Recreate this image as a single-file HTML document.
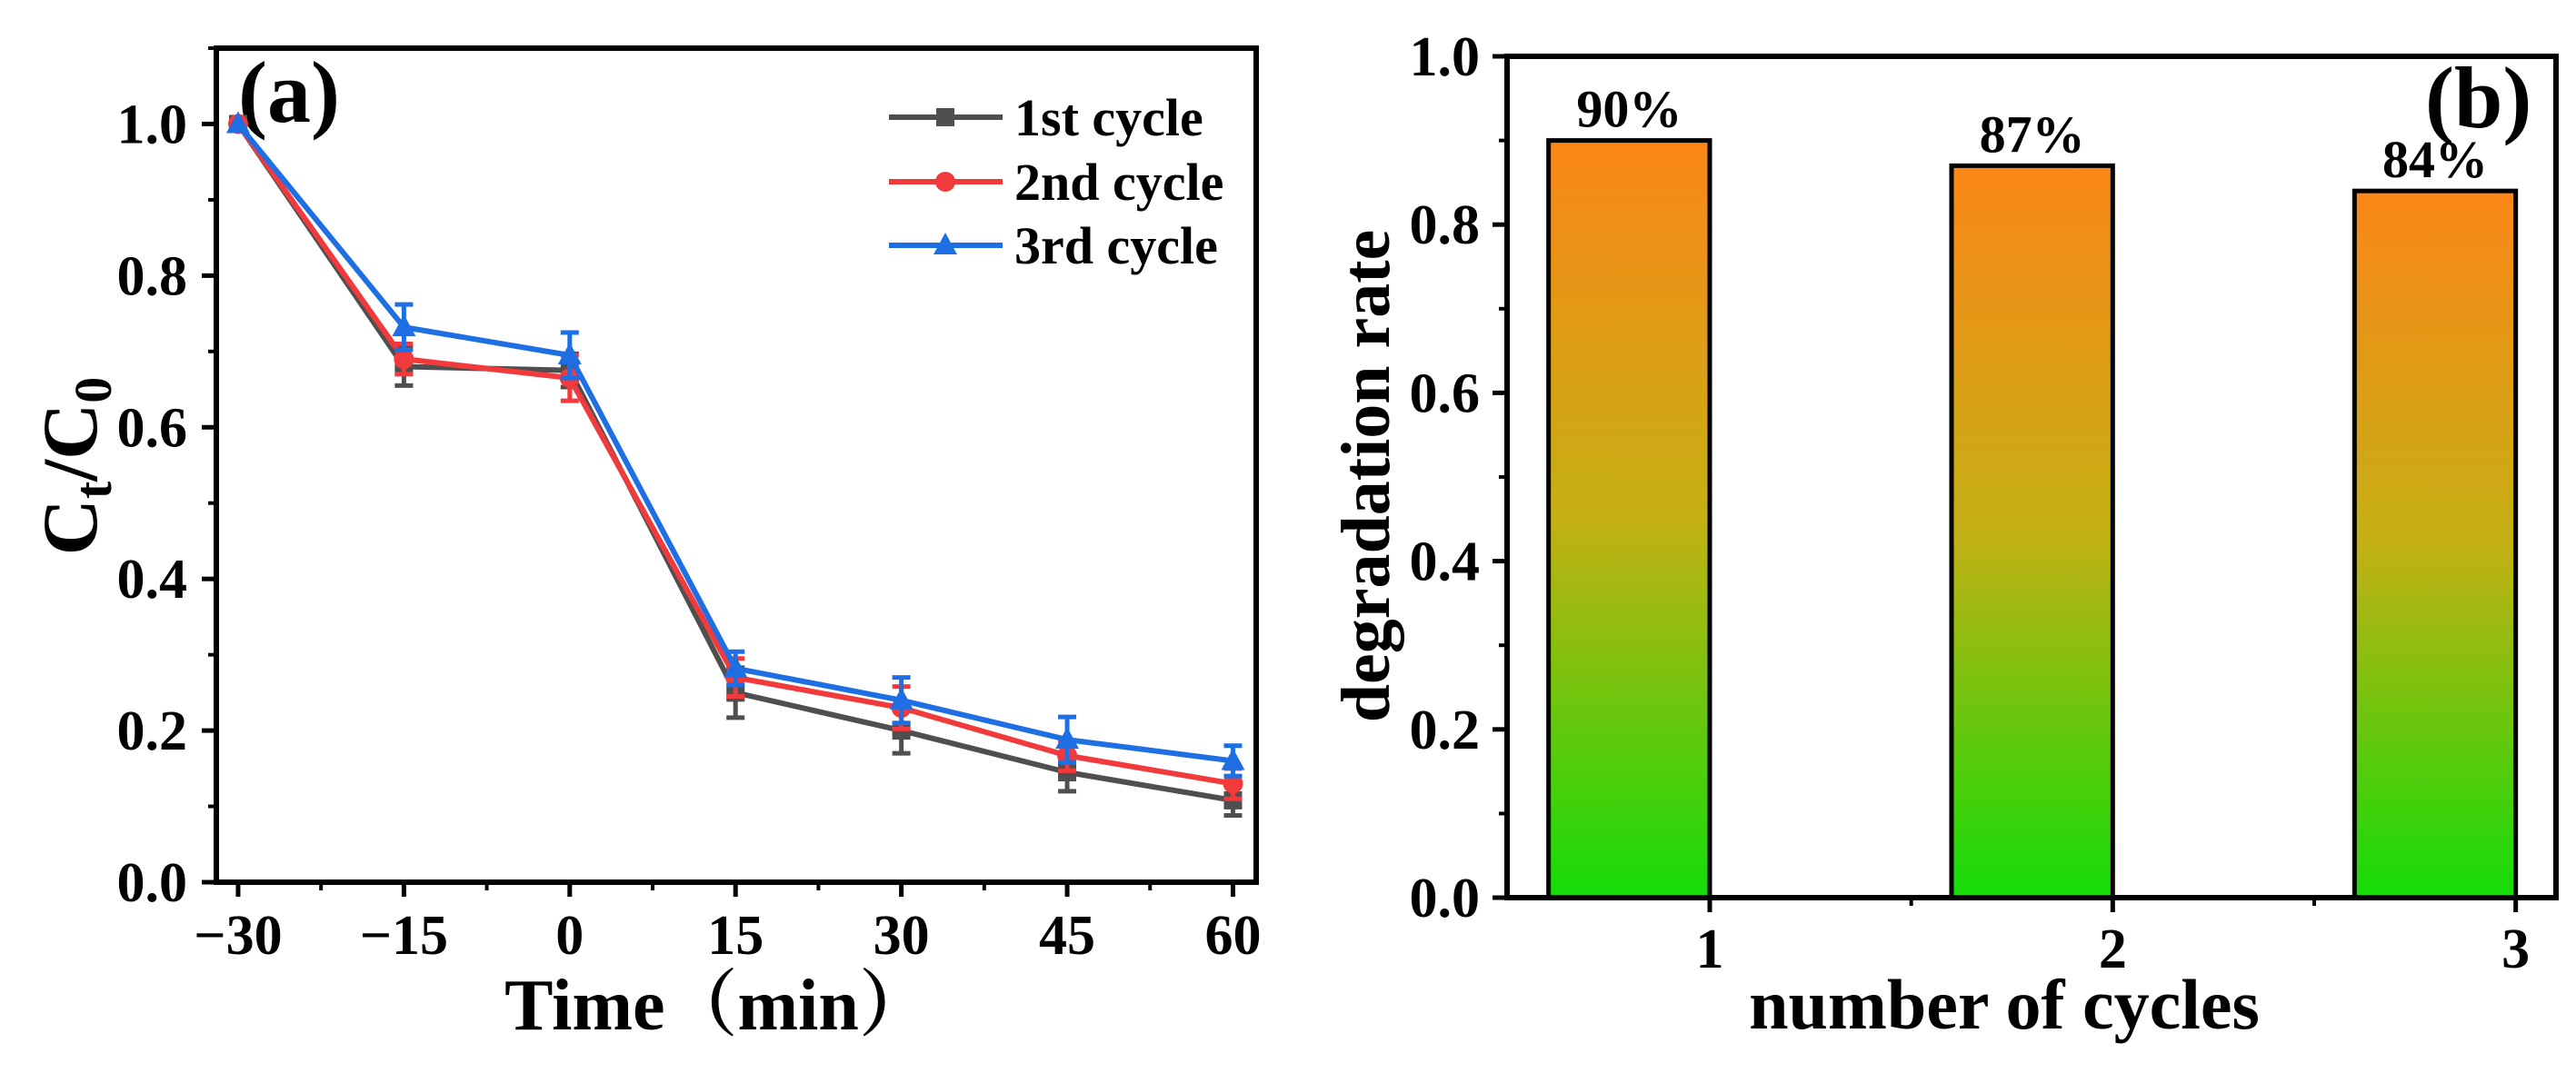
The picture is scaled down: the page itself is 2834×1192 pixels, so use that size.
<!DOCTYPE html>
<html><head><meta charset="utf-8"><style>
html,body{margin:0;padding:0;background:#fff}
svg{display:block}
text{font-family:"Liberation Serif","Noto Serif CJK SC",serif;font-weight:bold;fill:#000}
</style></head><body>
<svg id="fig" width="2834" height="1192" viewBox="0 0 2834 1192" xmlns="http://www.w3.org/2000/svg">
<defs>
<linearGradient id="barGrad" x1="0" y1="0" x2="0" y2="1">
<stop offset="0" stop-color="#fb8618"/>
<stop offset="0.5" stop-color="#c4b014"/>
<stop offset="1" stop-color="#14dc08"/>
</linearGradient>
</defs>
<g id="pa"></g>
<g id="pb"></g>
</svg>
<script>
// Panel (a) data
const times = [-30, -15, 0, 15, 30, 45, 60];
const cycle1 = [1.0, 0.68, 0.675, 0.25, 0.2, 0.145, 0.108];
const cycle2 = [1.0, 0.69, 0.665, 0.27, 0.23, 0.167, 0.13];
const cycle3 = [1.0, 0.732, 0.695, 0.282, 0.24, 0.188, 0.16];
const err1 = [0, 0.025, 0.022, 0.033, 0.03, 0.025, 0.02];
const err2 = [0, 0.02, 0.03, 0.025, 0.028, 0.02, 0.02];
const err3 = [0, 0.03, 0.03, 0.022, 0.03, 0.03, 0.02];
const xTicksA = [-30, -15, 0, 15, 30, 45, 60];
const xTickLabelsA = ["\u221230", "\u221215", "0", "15", "30", "45", "60"];
const yTicksA = [0, 0.2, 0.4, 0.6, 0.8, 1.0];
const yTickLabelsA = ["0.0", "0.2", "0.4", "0.6", "0.8", "1.0"];
const seriesNames = ["1st cycle", "2nd cycle", "3rd cycle"];
// Panel (b) data
const cycles = [1, 2, 3];
const rates = [0.90, 0.87, 0.84];
const rateLabels = ["90%", "87%", "84%"];
const yTicksB = [0, 0.2, 0.4, 0.6, 0.8, 1.0];
const yTickLabelsB = ["0.0", "0.2", "0.4", "0.6", "0.8", "1.0"];

const NS = "http://www.w3.org/2000/svg";
function mk(parent, tag, attrs, txt) {
  const e = document.createElementNS(NS, tag);
  for (const k in attrs) e.setAttribute(k, attrs[k]);
  if (txt !== undefined) e.textContent = txt;
  parent.appendChild(e);
  return e;
}

// ---------- Panel A ----------
const pa = document.getElementById('pa');
const A = {l: 238, r: 1382, t: 53, b: 971, x0: -31.97, x1: 62.1, y0: 0, y1: 1.1};
const xa = v => A.l + (v - A.x0) / (A.x1 - A.x0) * (A.r - A.l);
const ya = v => A.b - (v - A.y0) / (A.y1 - A.y0) * (A.b - A.t);

let frameA = mk(pa, 'rect', {x: A.l, y: A.t, width: A.r - A.l, height: A.b - A.t, fill: 'none', stroke: '#000', 'stroke-width': 6});



xTicksA.forEach((t, i) => {
  const tk = mk(pa, 'line', {x1: xa(t), x2: xa(t), y1: A.b, y2: A.b + 16, stroke: '#000', 'stroke-width': 5});
  
  
  const lb = mk(pa, 'text', {x: xa(t), y: 1050, 'font-size': 62, 'text-anchor': 'middle'}, xTickLabelsA[i]);
  
  
  if (i < xTicksA.length - 1) {
    const mt = mk(pa, 'line', {x1: xa(t + 7.5), x2: xa(t + 7.5), y1: A.b, y2: A.b + 9, stroke: '#000', 'stroke-width': 4});
    
    
  }
});
yTicksA.forEach((t, i) => {
  const tk = mk(pa, 'line', {x1: A.l - 16, x2: A.l, y1: ya(t), y2: ya(t), stroke: '#000', 'stroke-width': 5});
  
  
  const lb = mk(pa, 'text', {x: 206, y: ya(t) + 21, 'font-size': 62, 'text-anchor': 'end'}, yTickLabelsA[i]);
  
  
  const mt = mk(pa, 'line', {x1: A.l - 9, x2: A.l, y1: ya(t + 0.1), y2: ya(t + 0.1), stroke: '#000', 'stroke-width': 4});
  
  
});

const xl = mk(pa, 'text', {x: 790, y: 1133, 'font-size': 80, 'text-anchor': 'middle'}, "Time\uFF08min\uFF09");


const yl = mk(pa, 'text', {x: 0, y: 0, 'font-size': 86, 'text-anchor': 'middle', transform: 'translate(106,513) rotate(-90)'});


mk(yl, 'tspan', {}, 'C');
mk(yl, 'tspan', {'font-size': 58, dy: 16}, 't');
mk(yl, 'tspan', {dy: -16}, '/C');
mk(yl, 'tspan', {'font-size': 58, dy: 16}, '0');
const la = mk(pa, 'text', {x: 262, y: 134, 'font-size': 96}, '(a)');



const colors = ['#4f4f4f', '#f23a3d', '#1e6fe3'];
const allY = [cycle1, cycle2, cycle3];
const allE = [err1, err2, err3];
function marker(g, k, cx, cy, s) {
  let m;
  if (k === 0) m = mk(g, 'rect', {x: cx - s, y: cy - s, width: 2 * s, height: 2 * s, fill: colors[0]});
  else if (k === 1) m = mk(g, 'circle', {cx: cx, cy: cy, r: s + 1, fill: colors[1]});
  else m = mk(g, 'polygon', {points: `${cx},${cy - s - 4} ${cx - s - 3},${cy + s} ${cx + s + 3},${cy + s}`, fill: colors[2]});
  return m;
}
allY.forEach((ys, k) => {
  const g = mk(pa, 'g', {});
  
  
  const pts = times.map((t, i) => xa(t) + ',' + ya(ys[i])).join(' ');
  const ln = mk(g, 'polyline', {points: pts, fill: 'none', stroke: colors[k], 'stroke-width': 6, 'stroke-linejoin': 'round'});
  
  
  times.forEach((t, i) => {
    const e = allE[k][i];
    if (e > 0) {
      const eb = mk(g, 'path', {d: `M${xa(t)},${ya(ys[i] - e)}V${ya(ys[i] + e)}M${xa(t) - 10},${ya(ys[i] - e)}h20M${xa(t) - 10},${ya(ys[i] + e)}h20`, stroke: colors[k], 'stroke-width': 5, fill: 'none'});
      
      
    }
    const m = marker(g, k, xa(t), ya(ys[i]), 10);
    
    
  });
});
// legend
const legRows = [129, 200, 270];
seriesNames.forEach((n, k) => {
  const g = mk(pa, 'g', {});
  
  
  mk(g, 'line', {x1: 978, x2: 1103, y1: legRows[k], y2: legRows[k], stroke: colors[k], 'stroke-width': 6});
  marker(g, k, 1040, legRows[k], 10);
  mk(g, 'text', {x: 1116, y: legRows[k] + 20, 'font-size': 58}, n);
});

// ---------- Panel B ----------
const pb = document.getElementById('pb');
const B = {l: 1658, r: 2812, t: 62, b: 988, x0: 0.497, x1: 3.1, y0: 0, y1: 1.0};
const xb = v => B.l + (v - B.x0) / (B.x1 - B.x0) * (B.r - B.l);
const yb = v => B.b - (v - B.y0) / (B.y1 - B.y0) * (B.b - B.t);
const barW = 0.4;

rates.forEach((r, i) => {
  const c = cycles[i];
  const bar = mk(pb, 'rect', {x: xb(c - barW), y: yb(r), width: xb(c) - xb(c - barW), height: yb(0) - yb(r), fill: 'url(#barGrad)', stroke: '#000', 'stroke-width': 5});
  
  
  const lb = mk(pb, 'text', {x: xb(c - barW / 2), y: yb(r) - 15, 'font-size': 58, 'text-anchor': 'middle'}, rateLabels[i]);
  
  
});
const frameB = mk(pb, 'rect', {x: B.l, y: B.t, width: B.r - B.l, height: B.b - B.t, fill: 'none', stroke: '#000', 'stroke-width': 6});


cycles.forEach((c, i) => {
  const tk = mk(pb, 'line', {x1: xb(c), x2: xb(c), y1: B.b, y2: B.b + 16, stroke: '#000', 'stroke-width': 5});
  
  
  const lb = mk(pb, 'text', {x: xb(c), y: 1065, 'font-size': 62, 'text-anchor': 'middle'}, String(c));
  
  
  if (i < cycles.length - 1) {
    const mt = mk(pb, 'line', {x1: xb(c + 0.5), x2: xb(c + 0.5), y1: B.b, y2: B.b + 9, stroke: '#000', 'stroke-width': 4});
    
    
  }
});
yTicksB.forEach((t, i) => {
  const tk = mk(pb, 'line', {x1: B.l - 16, x2: B.l, y1: yb(t), y2: yb(t), stroke: '#000', 'stroke-width': 5});
  
  
  const lb = mk(pb, 'text', {x: 1628, y: yb(t) + 21, 'font-size': 62, 'text-anchor': 'end'}, yTickLabelsB[i]);
  
  
  if (t < 1.0) {
    const mt = mk(pb, 'line', {x1: B.l - 9, x2: B.l, y1: yb(t + 0.1), y2: yb(t + 0.1), stroke: '#000', 'stroke-width': 4});
    
    
  }
});
const xlb = mk(pb, 'text', {x: 2205, y: 1132, 'font-size': 78, 'text-anchor': 'middle'}, 'number of cycles');


const ylb = mk(pb, 'text', {x: 0, y: 0, 'font-size': 76, 'text-anchor': 'middle', transform: 'translate(1528,524) rotate(-90)'}, 'degradation rate');


const lbb = mk(pb, 'text', {x: 2668, y: 140, 'font-size': 96}, '(b)');


</script>
</body></html>
